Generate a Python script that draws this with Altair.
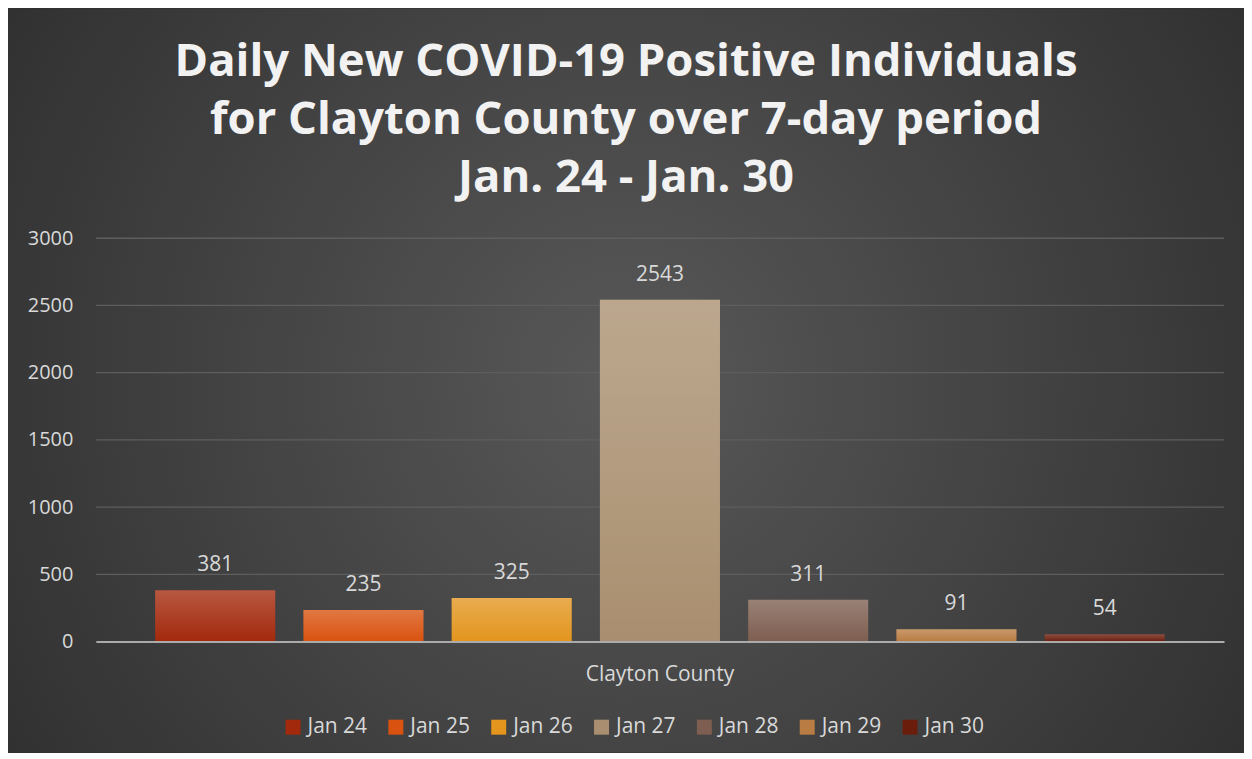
import altair as alt
import pandas as pd

county = ["Clayton County"] * 7
dates = ["Jan 24", "Jan 25", "Jan 26", "Jan 27", "Jan 28", "Jan 29", "Jan 30"]
values = [381, 235, 325, 2543, 311, 91, 54]
colors = ["#a3290c", "#d9520f", "#e3951e", "#a98f6f", "#7d5e50", "#b97c42", "#6b1d0c"]
y_ticks = [0, 500, 1000, 1500, 2000, 2500, 3000]

title_lines = ["Daily New COVID-19 Positive Individuals",
               "for Clayton County over 7-day period",
               "Jan. 24 - Jan. 30"]

df = pd.DataFrame({"county": county, "date": dates, "value": values})
grid_df = pd.DataFrame({"value": y_ticks[1:]})

FONT = "Open Sans"
LABEL = "#d9d9d9"
W, H = 1130, 404
PL, PT, PR, PB = 88, 230, 20, 111

bg = alt.Chart(alt.Data(values=[{"a": 1}])).mark_rect(
    fill={"gradient": "radial", "x1": 0.5, "y1": 0.5, "r1": 0,
          "x2": 0.5, "y2": 0.5, "r2": 0.75,
          "stops": [{"offset": 0, "color": "#585858"},
                    {"offset": 1, "color": "#262626"}]}
).encode(
    x=alt.value(-PL), x2=alt.value(W + PR),
    y=alt.value(-PT), y2=alt.value(H + PB)
)

xenc = alt.X("county:N", title=None,
             scale=alt.Scale(paddingInner=0, paddingOuter=0),
             axis=alt.Axis(labelAngle=0, ticks=False, domain=True,
                           domainColor="#ababab", domainWidth=2,
                           labelColor=LABEL, labelFontSize=21, labelFont=FONT,
                           labelPadding=22, grid=False, zindex=2))
xoff = alt.XOffset("date:N", sort=dates,
                   scale=alt.Scale(paddingInner=0.19, paddingOuter=0.4))
yscale = alt.Scale(domain=[0, 3000])
yaxis = alt.Axis(values=y_ticks, format="d",
                 domain=False, ticks=False, grid=False,
                 labelColor=LABEL, labelFontSize=20, labelFont=FONT,
                 labelPadding=23, zindex=1)
yenc = alt.Y("value:Q", title=None, scale=yscale, axis=yaxis)

grid = alt.Chart(grid_df).mark_rule(color="#5e5e5e", strokeWidth=1.3).encode(
    y=yenc
)

base = alt.Chart(df)

bars = base.mark_bar().encode(
    x=xenc, xOffset=xoff, y=yenc,
    color=alt.Color("date:N", sort=dates,
                    scale=alt.Scale(domain=dates, range=colors),
                    legend=alt.Legend(title=None, orient="none",
                                      direction="horizontal",
                                      legendX=187, legendY=479,
                                      symbolType="square", symbolSize=225,
                                      symbolStrokeWidth=0,
                                      labelColor=LABEL, labelFontSize=21,
                                      labelFont=FONT, columnPadding=18,
                                      labelOffset=4))
)

shine = base.mark_bar(
    fill={"gradient": "linear", "x1": 0, "y1": 0, "x2": 0, "y2": 1,
          "stops": [{"offset": 0, "color": "rgba(255,255,255,0.22)"},
                    {"offset": 1, "color": "rgba(255,255,255,0)"}]}
).encode(x=xenc, xOffset=xoff, y=yenc)

labels = base.mark_text(baseline="bottom", dy=-15, fontSize=21,
                        font=FONT, color=LABEL).encode(
    x=xenc, xOffset=xoff, y=yenc, text="value:Q"
)

chart = alt.layer(bg, grid, bars, shine, labels).properties(
    width=W, height=H,
    padding={"left": PL, "top": PT, "right": PR, "bottom": PB},
    autosize=alt.AutoSizeParams(type="none"),
    title=alt.TitleParams(text=title_lines, font=FONT, fontSize=45.5,
                          fontWeight="bold", color="#f2f2f2",
                          lineHeight=58, offset=-193, anchor="middle",
                          frame="bounds")
).configure(background="#2e2e2e").configure_view(stroke=None)

chart.save("out.html", embed_options={"renderer": "svg", "actions": False})
